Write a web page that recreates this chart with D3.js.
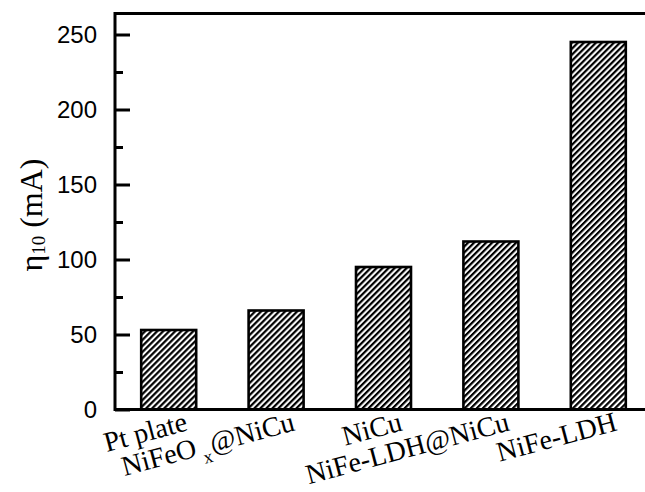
<!DOCTYPE html>
<html><head><meta charset="utf-8">
<script src="https://cdn.jsdelivr.net/npm/d3@7"></script>
<style>body{margin:0;background:#fff}</style>
</head><body><svg id="c" width="645" height="492"></svg>
<script>
// ---- data ----
const categories = ["Pt plate", "NiFeO_{x}@NiCu", "NiCu", "NiFe-LDH@NiCu", "NiFe-LDH"];
const values = [53, 66, 95, 112, 245];
const majorTicks = [0, 50, 100, 150, 200, 250];
const minorTicks = [25, 75, 125, 175, 225];
const yTitleMain = "η";
const yTitleSub = "10";
const yTitleUnit = " (mA)";

// ---- layout ----
const svg = d3.select("#c");
const W = 645, H = 492;
const x = d3.scaleLinear().domain([-0.5, categories.length - 0.5]).range([115, 652]);
const y = d3.scaleLinear().domain([0, 264]).range([409.5, 13.5]);
const barW = x(0.512) - x(0);

svg.append("rect").attr("width", W).attr("height", H).attr("fill", "#fff");

const defs = svg.append("defs");
const pat = defs.append("pattern")
  .attr("id", "hatch").attr("patternUnits", "userSpaceOnUse")
  .attr("width", 4.25).attr("height", 10)
  .attr("patternTransform", "rotate(45)");
pat.append("rect").attr("width", 4.25).attr("height", 10).attr("fill", "#fff");
pat.append("rect").attr("x", 0).attr("width", 2.2).attr("height", 10).attr("fill", "#000");

// bars
svg.append("g").selectAll("rect").data(values).join("rect")
  .attr("x", (d, i) => x(i) - barW / 2)
  .attr("y", d => y(d))
  .attr("width", barW)
  .attr("height", d => y(0) - y(d))
  .attr("fill", "url(#hatch)")
  .attr("stroke", "#000").attr("stroke-width", 2.6);

// frame
const x0 = x.range()[0], x1 = 700;
const frame = svg.append("g").attr("stroke", "#000").attr("stroke-width", 3).attr("fill", "none");
frame.append("line").attr("x1", x0).attr("x2", x1).attr("y1", y.range()[1]).attr("y2", y.range()[1]);
frame.append("line").attr("x1", x0).attr("x2", x1).attr("y1", y(0)).attr("y2", y(0));
frame.append("line").attr("x1", x0).attr("x2", x0).attr("y1", y.range()[1] - 1.5).attr("y2", y(0) + 1.5);

// y axis (inward ticks)
const yAxis = d3.axisLeft(y).tickValues(majorTicks).tickSize(-15).tickPadding(18).tickFormat(d3.format("d"));
const gy = svg.append("g").attr("transform", `translate(${x0},0)`).call(yAxis);
gy.select(".domain").remove();
gy.selectAll(".tick line").attr("stroke", "#000").attr("stroke-width", 3);
gy.selectAll(".tick text").attr("font-family", "Liberation Sans, Arial, sans-serif")
  .attr("font-size", 24).attr("fill", "#000");

const yMinor = d3.axisLeft(y).tickValues(minorTicks).tickSize(-8).tickFormat("");
const gym = svg.append("g").attr("transform", `translate(${x0},0)`).call(yMinor);
gym.select(".domain").remove();
gym.selectAll(".tick line").attr("stroke", "#000").attr("stroke-width", 3);

// y title
const yt = svg.append("text")
  .attr("transform", "translate(42,215) rotate(-90)")
  .attr("text-anchor", "middle")
  .attr("font-family", "Liberation Serif, Times New Roman, serif")
  .attr("font-size", 32).attr("fill", "#000");
yt.append("tspan").text(yTitleMain);
yt.append("tspan").attr("font-size", 19).attr("dy", 3).text(yTitleSub);
yt.append("tspan").attr("dy", -3).text(yTitleUnit);

// x labels
categories.forEach((lab, i) => {
  const t = svg.append("text")
    .attr("transform", `translate(${x(i) + 20},430) rotate(-15)`)
    .attr("text-anchor", "end")
    .attr("font-family", "Liberation Serif, Times New Roman, serif")
    .attr("font-size", 28).attr("fill", "#000");
  const parts = lab.split(/_\{([^}]*)\}/);
  parts.forEach((p, k) => {
    if (k % 2 === 1) {
      t.append("tspan").attr("font-size", 18).attr("dx", 5).attr("dy", 9).text(p);
    } else if (p.length) {
      const s = t.append("tspan").text(p);
      if (k > 0) s.attr("dy", -9).attr("dx", 1);
    }
  });
});
</script>
</body></html>
